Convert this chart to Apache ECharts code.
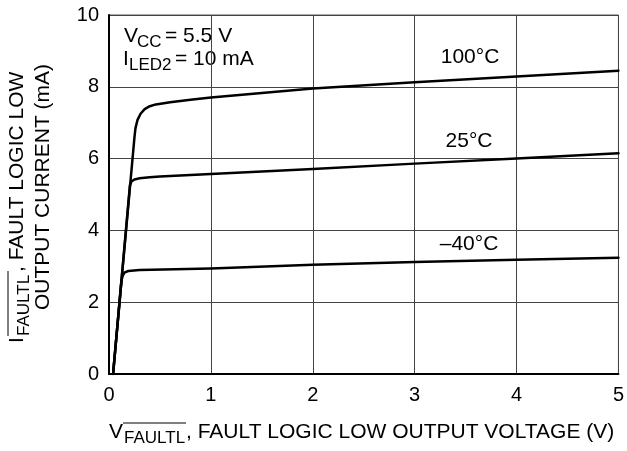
<!DOCTYPE html>
<html>
<head>
<meta charset="utf-8">
<script src="https://cdn.jsdelivr.net/npm/echarts@6/dist/echarts.min.js"></script>
<style>html,body{margin:0;padding:0;background:#fff}#c{width:627px;height:451px}</style>
</head>
<body>
<div id="c"></div>
<script>
// Data (V, mA)
var xTicks = [0, 1, 2, 3, 4, 5];
var yTicks = [0, 2, 4, 6, 8, 10];
var seriesNames = ['100°C', '25°C', '–40°C'];
var curve100 = [[0.04,0],[0.25,6.6],[0.26,6.85],[0.28,7.08],[0.31,7.25],[0.35,7.38],[0.40,7.46],[0.46,7.51],[0.6,7.57],[0.8,7.64],[1,7.7],[2,7.95],[3,8.13],[4,8.29],[5,8.45]];
var curve25 = [[0.04,0],[0.205,5.25],[0.22,5.36],[0.25,5.42],[0.3,5.45],[0.4,5.48],[0.5,5.5],[1,5.57],[2,5.71],[3,5.86],[4,6.0],[5,6.15]];
var curveM40 = [[0.04,0],[0.122,2.6],[0.135,2.74],[0.155,2.83],[0.19,2.87],[0.3,2.9],[1,2.94],[2,3.04],[3,3.12],[4,3.18],[5,3.24]];

var FONT = 'Liberation Sans, Arial, sans-serif';
function txt(x, y, text, size, align, extra) {
  var o = {type: 'text', x: x, y: y, silent: true,
    style: {text: text, font: size + 'px ' + FONT, fill: '#000', align: align || 'left', verticalAlign: 'middle'}};
  if (extra) for (var k in extra) o[k] = extra[k];
  return o;
}
function hline(x1, x2, y) {
  return {type: 'line', silent: true, shape: {x1: x1, y1: y, x2: x2, y2: y}, style: {stroke: '#000', lineWidth: 1}};
}
function vline(x, y1, y2) {
  return {type: 'line', silent: true, shape: {x1: x, y1: y1, x2: x, y2: y2}, style: {stroke: '#000', lineWidth: 1}};
}
var R = Math.PI / 2;

var chart = echarts.init(document.getElementById('c'));
function mkSeries(name, data) {
  return {name: name, type: 'line', data: data, symbol: 'none', smooth: false,
    lineStyle: {color: '#000', width: 2.5, join: 'round', cap: 'round'}, z: 5};
}
chart.setOption({
  animation: false,
  backgroundColor: '#fff',
  grid: {left: 109, right: 5, top: 15, bottom: 77, show: true, borderColor: '#555', borderWidth: 1},
  xAxis: {type: 'value', min: xTicks[0], max: xTicks[xTicks.length-1], interval: 1,
    axisLine: {show: true, onZero: false, lineStyle: {color: '#000', width: 2}},
    axisTick: {show: false},
    axisLabel: {color: '#000', fontSize: 20, fontFamily: FONT, margin: 11},
    splitLine: {show: true, lineStyle: {color: '#444', width: 1}}},
  yAxis: {type: 'value', min: yTicks[0], max: yTicks[yTicks.length-1], interval: 2,
    axisLine: {show: true, onZero: false, lineStyle: {color: '#000', width: 2}},
    axisTick: {show: false},
    axisLabel: {color: '#000', fontSize: 20, fontFamily: FONT, margin: 10},
    splitLine: {show: true, lineStyle: {color: '#444', width: 1}}},
  series: [mkSeries(seriesNames[0], curve100), mkSeries(seriesNames[1], curve25), mkSeries(seriesNames[2], curveM40)],
  graphic: [
    // conditions
    txt(124, 36, 'V', 21), txt(137, 42, 'CC', 17), txt(165, 36, '= 5.5 V', 21),
    txt(123, 59, 'I', 21), txt(129, 65, 'LED2', 17), txt(175, 59, '= 10 mA', 21),
    // curve labels
    txt(470, 57, seriesNames[0], 21, 'center'),
    txt(469, 141, seriesNames[1], 21, 'center'),
    txt(469, 244, seriesNames[2], 21, 'center'),
    // x axis title
    txt(109, 432, 'V', 21), txt(124, 438, 'FAULTL', 17), txt(186, 432, ', FAULT LOGIC LOW OUTPUT VOLTAGE (V)', 21),
    hline(123, 186, 423),
    // y axis title (rotated)
    txt(17, 343, 'I', 21, 'left', {rotation: R}),
    txt(24, 336, 'FAULTL', 17, 'left', {rotation: R}),
    txt(17, 272, ', FAULT LOGIC LOW', 21, 'left', {rotation: R}),
    vline(8, 271, 336),
    txt(43, 187, 'OUTPUT CURRENT (mA)', 21, 'center', {rotation: R})
  ]
});
</script>
</body>
</html>
